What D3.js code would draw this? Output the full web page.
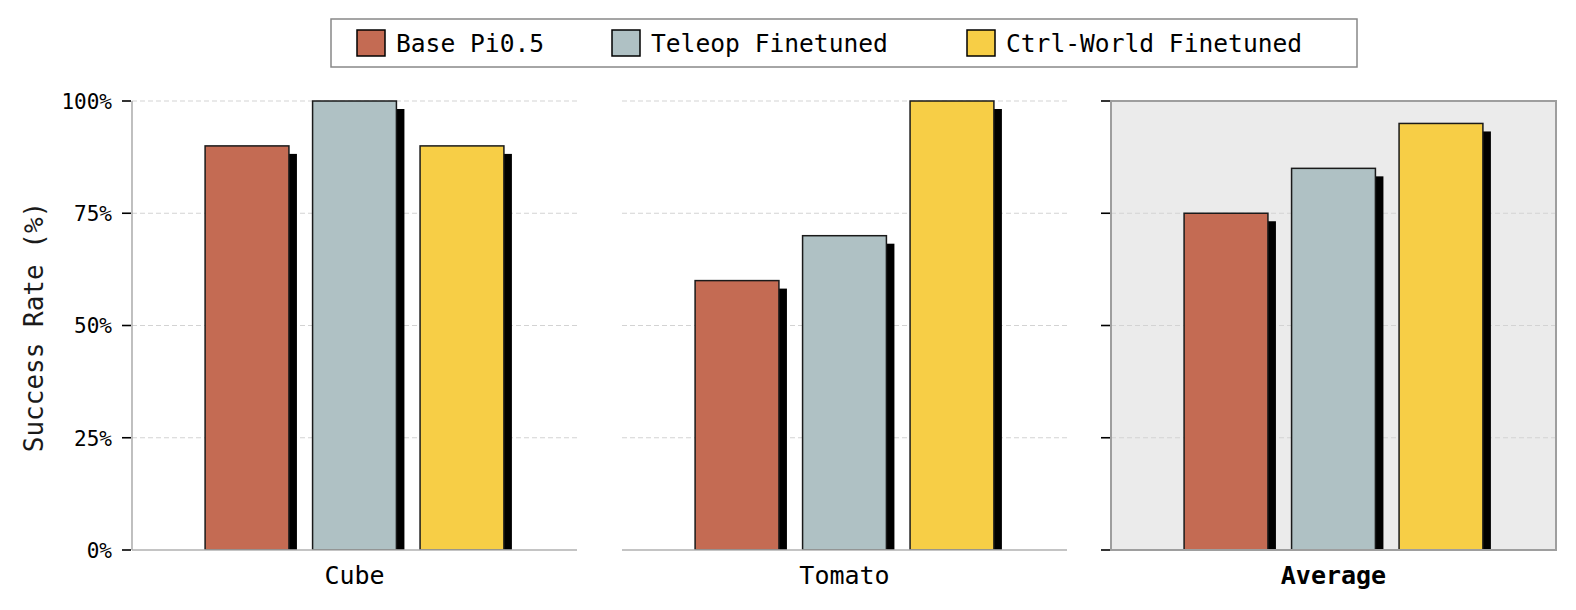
<!DOCTYPE html>
<html><head><meta charset="utf-8">
<script src="https://cdn.jsdelivr.net/npm/d3@7"></script>
<style>body{margin:0;background:#fff}svg{display:block;font-family:"DejaVu Sans Mono",monospace}</style>
</head><body>
<svg id="c" width="1576" height="610"></svg>
<script>
const categories = ["Cube", "Tomato", "Average"];
const seriesNames = ["Base Pi0.5", "Teleop Finetuned", "Ctrl-World Finetuned"];
const seriesColors = ["#C46B53", "#AFC1C4", "#F7CE46"];
const baseVals = [90, 60, 75];
const teleopVals = [100, 70, 85];
const ctrlVals = [90, 100, 95];
const yTicks = [0, 25, 50, 75, 100];
const yTickLabels = ["0%", "25%", "50%", "75%", "100%"];

const series = [baseVals, teleopVals, ctrlVals];
const svg = d3.select("#c");
const plotTop = 101, plotBottom = 550;
const panels = [[132, 577], [622, 1067], [1111, 1556]];
const y = d3.scaleLinear().domain([0, 100]).range([plotBottom, plotTop]);

panels.forEach((p, i) => {
  const g = svg.append("g");
  const x = d3.scaleLinear().domain([-2.07, 2.07]).range(p);
  const bw = x(0.39) - x(-0.39);
  const isAvg = i === 2;
  if (isAvg) {
    g.append("rect").attr("x", p[0]).attr("y", plotTop).attr("width", p[1]-p[0]).attr("height", plotBottom-plotTop)
      .attr("fill", "#EBEBEB");
  }
  g.selectAll(".grid").data(yTicks.slice(1)).join("line")
    .attr("x1", p[0]).attr("x2", p[1]).attr("y1", d => y(d)).attr("y2", d => y(d))
    .attr("stroke", "#d3d3d3").attr("stroke-width", 1).attr("stroke-dasharray", "5,3");
  const clipId = "clip" + i;
  svg.append("clipPath").attr("id", clipId).append("rect")
    .attr("x", p[0]).attr("y", 0).attr("width", p[1]-p[0]).attr("height", plotBottom);
  const bars = g.append("g").attr("clip-path", `url(#${clipId})`);
  series.forEach((vals, s) => {
    const cx = x(s - 1);
    bars.append("rect").attr("x", cx - bw/2 + 8).attr("y", y(vals[i]) + 8)
      .attr("width", bw).attr("height", plotBottom - y(vals[i])).attr("fill", "#000");
  });
  series.forEach((vals, s) => {
    const cx = x(s - 1);
    bars.append("rect").attr("x", cx - bw/2).attr("y", y(vals[i]))
      .attr("width", bw).attr("height", plotBottom - y(vals[i]))
      .attr("fill", seriesColors[s]).attr("stroke", "#1a1a1a").attr("stroke-width", 1.5);
  });
  if (isAvg) {
    g.append("rect").attr("x", p[0]).attr("y", plotTop).attr("width", p[1]-p[0]).attr("height", plotBottom-plotTop)
      .attr("fill", "none").attr("stroke", "#9e9e9e").attr("stroke-width", 2);
  } else {
    g.append("line").attr("x1", p[0]).attr("x2", p[1]).attr("y1", plotBottom).attr("y2", plotBottom)
      .attr("stroke", "#b0b0b0").attr("stroke-width", 1.6);
    if (i === 0) {
      g.append("line").attr("x1", p[0]).attr("x2", p[0]).attr("y1", plotTop).attr("y2", plotBottom)
        .attr("stroke", "#b0b0b0").attr("stroke-width", 1.6);
    }
  }
  if (i === 0 || isAvg) {
    g.selectAll(".tk").data(yTicks).join("line")
      .attr("x1", p[0] - 10).attr("x2", p[0] - 1).attr("y1", d => y(d)).attr("y2", d => y(d))
      .attr("stroke", "#000").attr("stroke-width", 1.6);
  }
  if (i === 0) {
    g.selectAll(".tl").data(yTicks).join("text")
      .attr("x", p[0] - 20).attr("y", d => y(d)).attr("dy", "0.38em")
      .attr("text-anchor", "end").attr("font-size", 21).attr("fill", "#000")
      .text((d, k) => yTickLabels[k]);
  }
  g.append("text").attr("x", (p[0]+p[1])/2).attr("y", 584).attr("text-anchor", "middle")
    .attr("font-size", 25).attr("font-weight", isAvg ? "bold" : "normal").attr("fill", "#000")
    .text(categories[i]);
});

svg.append("text").attr("transform", "translate(43,327) rotate(-90)").attr("text-anchor", "middle")
  .attr("font-size", 26).attr("fill", "#1a1a1a").text("Success Rate (%)");

const lg = svg.append("g");
lg.append("rect").attr("x", 331).attr("y", 19).attr("width", 1026).attr("height", 48)
  .attr("fill", "#fff").attr("stroke", "#888").attr("stroke-width", 1.5);
const lx = [357, 612, 967];
seriesNames.forEach((n, s) => {
  lg.append("rect").attr("x", lx[s]).attr("y", 30).attr("width", 28).attr("height", 26)
    .attr("fill", seriesColors[s]).attr("stroke", "#000").attr("stroke-width", 1.5);
  lg.append("text").attr("x", lx[s] + 39).attr("y", 43).attr("dy", "0.36em")
    .attr("font-size", 24.6).attr("fill", "#000").text(n);
});
</script>
</body></html>
